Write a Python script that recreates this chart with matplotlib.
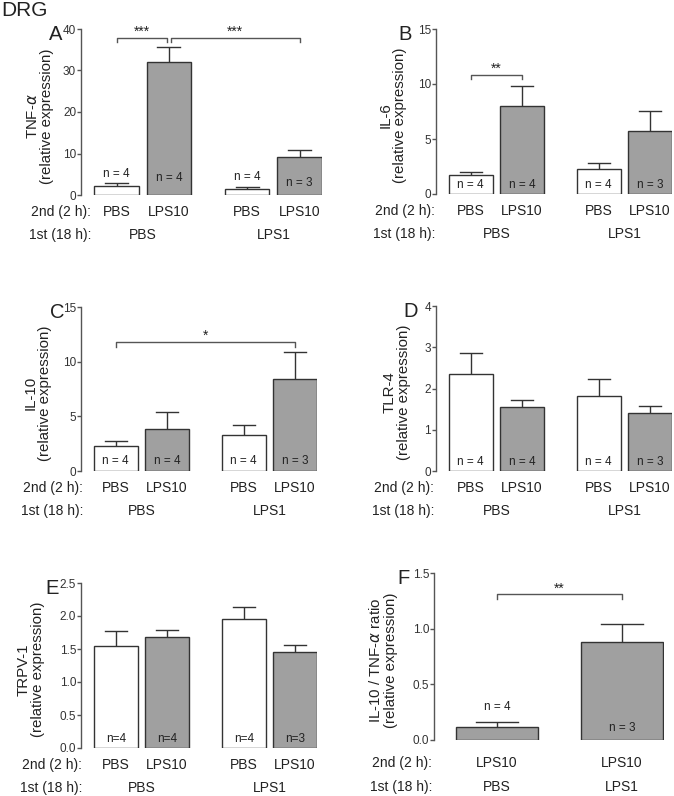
import matplotlib
matplotlib.use("Agg")
import matplotlib.pyplot as plt
from matplotlib.transforms import blended_transform_factory

plt.rcParams['font.family'] = ['Liberation Sans', 'DejaVu Sans']

W, H = 674, 796
DPI = 100

# ---- data ----
second_labels = ["PBS", "LPS10", "PBS", "LPS10"]
first_labels = ["PBS", "LPS1"]

tnf_mean = [2.25, 32.1, 1.45, 9.2]
tnf_err = [0.65, 3.6, 0.45, 1.6]
tnf_n = ["n = 4", "n = 4", "n = 4", "n = 3"]

il6_mean = [1.7, 7.96, 2.3, 5.7]
il6_err = [0.3, 1.85, 0.55, 1.85]
il6_n = ["n = 4", "n = 4", "n = 4", "n = 3"]

il10_mean = [2.28, 3.86, 3.25, 8.46]
il10_err = [0.42, 1.55, 0.95, 2.45]
il10_n = ["n = 4", "n = 4", "n = 4", "n = 3"]

tlr4_mean = [2.34, 1.54, 1.83, 1.41]
tlr4_err = [0.52, 0.17, 0.39, 0.16]
tlr4_n = ["n = 4", "n = 4", "n = 4", "n = 3"]

trpv1_mean = [1.54, 1.68, 1.96, 1.45]
trpv1_err = [0.23, 0.11, 0.17, 0.11]
trpv1_n = ["n=4", "n=4", "n=4", "n=3"]

ratio_second = ["LPS10", "LPS10"]
ratio_first = ["PBS", "LPS1"]
ratio_mean = [0.12, 0.876]
ratio_err = [0.045, 0.165]
ratio_n = ["n = 4", "n = 3"]

WHITE = "white"
GRAY = "#a0a0a0"
EDGE = "#333333"
LINE = "#555555"
TXT = "#222222"

fig = plt.figure(figsize=(W / DPI, H / DPI), dpi=DPI)


def px_axes(left, right, top, bottom):
    return fig.add_axes([left / W, 1 - bottom / H, (right - left) / W, (bottom - top) / H])


def style(ax, ylim, ticks, ticklabels):
    ax.set_ylim(*ylim)
    ax.set_yticks(ticks)
    ax.set_yticklabels(ticklabels, fontsize=8.5, color="#333333")
    for s in ["top", "right", "bottom"]:
        ax.spines[s].set_visible(False)
    ax.spines["left"].set_color(LINE)
    ax.spines["left"].set_linewidth(1.0)
    ax.tick_params(axis="y", length=3, width=1.0, color=LINE, pad=0.5)
    ax.set_xticks([])
    ax.patch.set_alpha(0)


def bars(ax, x, mean, err, colors, width, cap):
    ax.bar(x, mean, width=width, color=colors, edgecolor=EDGE, linewidth=1.0, zorder=2)
    for xi, m, e in zip(x, mean, err):
        ax.plot([xi, xi], [m, m + e], color=EDGE, lw=1.0, zorder=1, solid_capstyle="butt")
        ax.plot([xi - cap, xi + cap], [m + e, m + e], color=EDGE, lw=1.0, zorder=1)


def nlabels(ax, x, labels, ys):
    for xi, lab, y in zip(x, labels, ys):
        ax.text(xi, y, lab, ha="center", va="center", fontsize=8.5, color=TXT, zorder=3)


def bracket(ax, x1, x2, y, drop, stars, star_y):
    ax.plot([x1, x1, x2, x2], [y - drop, y, y, y - drop], color=LINE, lw=1.0, clip_on=False)
    ax.text((x1 + x2) / 2, star_y, stars, ha="center", va="center", fontsize=10, color=TXT)


def cat_labels(ax, x, second, first_x, first, right_px, off2=17, off1=40):
    tr = blended_transform_factory(ax.transData, ax.transAxes)
    for xi, lab in zip(x, second):
        ax.annotate(lab, (xi, 0), xycoords=tr, xytext=(0, -off2), textcoords="offset pixels",
                    ha="center", va="center", fontsize=10, color=TXT)
    for xi, lab in zip(first_x, first):
        ax.annotate(lab, (xi, 0), xycoords=tr, xytext=(0, -off1), textcoords="offset pixels",
                    ha="center", va="center", fontsize=10, color=TXT)
    bottom_px = (1 - ax.get_position().y0) * H
    fig.text(right_px / W, 1 - (bottom_px + off2) / H, "2nd (2 h):", ha="right", va="center",
             fontsize=10, color=TXT)
    fig.text(right_px / W, 1 - (bottom_px + off1) / H, "1st (18 h):", ha="right", va="center",
             fontsize=10, color=TXT)


def ylabel(ax, text, xc_px, dy_px=4):
    pos = ax.get_position()
    yc = pos.y0 + pos.height / 2 - dy_px / H
    fig.text(xc_px / W, yc, text, rotation=90, ha="center", va="center",
             multialignment="center", fontsize=10.8, color=TXT, linespacing=1.05)


def letter(x_px, y_px, s):
    fig.text(x_px / W, 1 - y_px / H, s, ha="center", va="center", fontsize=14.5, color=TXT)


X4 = [0, 1, 2.5, 3.5]
GX = [0.5, 3.0]
COL4 = [WHITE, GRAY, WHITE, GRAY]
BW = 0.85
CAP = 0.22

# Panel A
axA = px_axes(81, 322, 29, 195)
axA.set_xlim(-0.68, 3.93)
style(axA, (0, 40), [0, 10, 20, 30, 40], ["0", "10", "20", "30", "40"])
bars(axA, X4, tnf_mean, tnf_err, COL4, BW, CAP)
nlabels(axA, X4, tnf_n, [5.1, 4.2, 4.3, 3.0])
bracket(axA, 0, 0.96, 37.8, 1.0, "***", 39.3)
bracket(axA, 1.04, 3.5, 37.8, 1.0, "***", 39.3)
cat_labels(axA, X4, second_labels, GX, first_labels, 91)
ylabel(axA, "TNF-$\\alpha$\n(relative expression)", 40)
letter(56, 35, "A")

# Panel B
axB = px_axes(436, 672, 29, 194)
axB.set_xlim(-0.68, 3.93)
style(axB, (0, 15), [0, 5, 10, 15], ["0", "5", "10", "15"])
bars(axB, X4, il6_mean, il6_err, COL4, BW, CAP)
nlabels(axB, X4, il6_n, [0.8, 0.8, 0.8, 0.8])
bracket(axB, 0, 1, 10.84, 0.4, "**", 11.4)
cat_labels(axB, X4, second_labels, GX, first_labels, 435)
ylabel(axB, "IL-6\n(relative expression)", 393)
letter(405, 34, "B")

# Panel C
axC = px_axes(81, 317, 307, 471)
axC.set_xlim(-0.68, 3.93)
style(axC, (0, 15), [0, 5, 10, 15], ["0", "5", "10", "15"])
bars(axC, X4, il10_mean, il10_err, COL4, BW, CAP)
nlabels(axC, X4, il10_n, [0.94, 0.94, 0.94, 0.94])
bracket(axC, 0, 3.5, 11.77, 0.4, "*", 12.4)
cat_labels(axC, X4, second_labels, GX, first_labels, 83)
ylabel(axC, "IL-10\n(relative expression)", 38)
letter(57, 313, "C")

# Panel D
axD = px_axes(436, 672, 306, 471)
axD.set_xlim(-0.68, 3.93)
style(axD, (0, 4), [0, 1, 2, 3, 4], ["0", "1", "2", "3", "4"])
bars(axD, X4, tlr4_mean, tlr4_err, COL4, BW, CAP)
nlabels(axD, X4, tlr4_n, [0.23, 0.23, 0.23, 0.23])
cat_labels(axD, X4, second_labels, GX, first_labels, 434)
ylabel(axD, "TLR-4\n(relative expression)", 397)
letter(411, 312, "D")

# Panel E
axE = px_axes(81, 317, 583, 748)
axE.set_xlim(-0.68, 3.93)
style(axE, (0, 2.5), [0, 0.5, 1.0, 1.5, 2.0, 2.5], ["0.0", "0.5", "1.0", "1.5", "2.0", "2.5"])
bars(axE, X4, trpv1_mean, trpv1_err, COL4, BW, CAP)
nlabels(axE, X4, trpv1_n, [0.14, 0.14, 0.14, 0.14])
cat_labels(axE, X4, second_labels, GX, first_labels, 82)
ylabel(axE, "TRPV-1\n(relative expression)", 31)
letter(52, 589, "E")

# Panel F
X2 = [0, 1]
axF = px_axes(434, 664, 573, 740)
axF.set_xlim(-0.504, 1.336)
style(axF, (0, 1.5), [0, 0.5, 1.0, 1.5], ["0.0", "0.5", "1.0", "1.5"])
bars(axF, X2, ratio_mean, ratio_err, [GRAY, GRAY], 0.66, 0.17)
nlabels(axF, X2, ratio_n, [0.3, 0.11])
bracket(axF, 0, 1, 1.31, 0.04, "**", 1.36)
cat_labels(axF, X2, ratio_second, X2, ratio_first, 432, off2=23, off1=47)
ylabel(axF, "IL-10 / TNF-$\\alpha$ ratio\n(relative expression)", 383)
letter(403, 579, "F")

fig.text(1 / W, 1 - 11 / H, "DRG", ha="left", va="center", fontsize=15, color=TXT)

fig.savefig("out.png", dpi=DPI)
